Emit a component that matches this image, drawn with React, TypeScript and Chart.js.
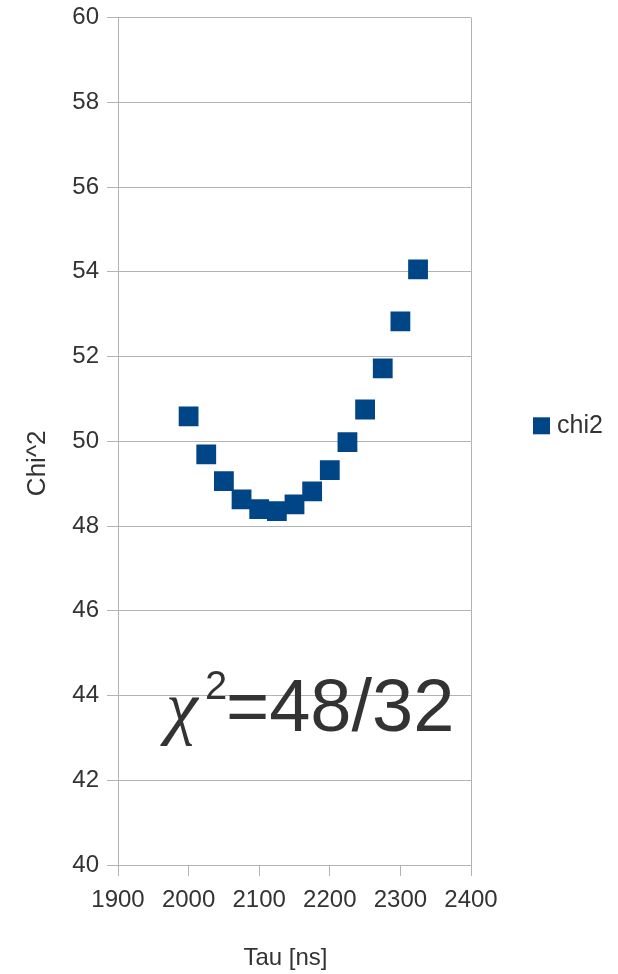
import React, { useEffect, useRef } from 'react';
import { Chart, registerables } from 'chart.js';
Chart.register(...registerables);

const tauValues = [2000, 2025, 2050, 2075, 2100, 2125, 2150, 2175, 2200, 2225, 2250, 2275, 2300, 2325];
const chi2Values = [50.59, 49.69, 49.06, 48.63, 48.4, 48.35, 48.51, 48.82, 49.32, 49.98, 50.75, 51.72, 52.83, 54.06];
const seriesName = 'chi2';
const xTitle = 'Tau [ns]';
const yTitle = 'Chi^2';
const annotChi = 'χ';
const annotSup = '2';
const annotRest = '=48/32';

const COLOR = '#004586';
const TEXT = '#333333';
const GRID = '#b3b3b3';
const FONT = 'Liberation Sans, Arial, sans-serif';

const overlayPlugin = {
  id: 'overlay',
  afterDraw(chart: any) {
    const { ctx, chartArea } = chart;
    const { left, right, top, bottom } = chartArea;
    ctx.save();
    ctx.fillStyle = TEXT;
    // axis titles
    ctx.font = `24px ${FONT}`;
    ctx.textAlign = 'center';
    ctx.textBaseline = 'middle';
    ctx.fillText(xTitle, (left + right) / 2 - 9, bottom + 93);
    ctx.save();
    ctx.translate(38, (top + bottom) / 2 + 22);
    ctx.rotate(-Math.PI / 2);
    ctx.font = `26px ${FONT}`;
    ctx.fillText(yTitle, 0, 0);
    ctx.restore();
    // legend
    ctx.fillStyle = COLOR;
    ctx.fillRect(right + 62, (top + bottom) / 2 - 24, 17, 17);
    ctx.fillStyle = TEXT;
    ctx.textAlign = 'left';
    ctx.font = `25px ${FONT}`;
    ctx.fillText(seriesName, right + 86, (top + bottom) / 2 - 15);
    // annotation
    ctx.textBaseline = 'alphabetic';
    const base = bottom - 134;
    ctx.font = `italic 72px Liberation Serif, serif`;
    ctx.fillText(annotChi, left + 48, base);
    ctx.font = `40px ${FONT}`;
    ctx.fillText(annotSup, left + 87, base - 32);
    ctx.font = `74px ${FONT}`;
    ctx.fillText(annotRest, left + 108, base);
    ctx.restore();
  },
};

export default function App() {
  const ref = useRef<HTMLCanvasElement>(null);
  useEffect(() => {
    document.body.style.margin = '0';
    const canvas = ref.current!;
    const chart = new Chart(canvas, {
      type: 'scatter',
      data: {
        datasets: [
          {
            label: seriesName,
            data: tauValues.map((x, i) => ({ x, y: chi2Values[i] })),
            pointStyle: 'rect',
            pointRadius: 14,
            pointHoverRadius: 14,
            backgroundColor: COLOR,
            borderColor: COLOR,
            borderWidth: 0,
          },
        ],
      },
      options: {
        animation: false,
        responsive: false,
        devicePixelRatio: 1,
        layout: { padding: { left: 0, top: 17, right: 147, bottom: 0 } },
        plugins: { legend: { display: false }, tooltip: { enabled: false } },
        scales: {
          x: {
            type: 'linear',
            min: 1900,
            max: 2400,
            afterFit: (s: any) => { s.height = 109; },
            ticks: {
              stepSize: 100,
              color: TEXT,
              font: { family: FONT, size: 24 },
              padding: 10,
              callback: (v: any) => String(v),
            },
            grid: {
              color: (c: any) => (c.index === 0 || c.index === 5 ? GRID : 'rgba(0,0,0,0)'),
              tickColor: GRID,
              tickLength: 11,
              lineWidth: 1,
            },
            border: { color: GRID },
          },
          y: {
            type: 'linear',
            min: 40,
            max: 60,
            afterFit: (s: any) => { s.width = 118; },
            ticks: {
              stepSize: 2,
              color: TEXT,
              font: { family: FONT, size: 24, lineHeight: 0.8 },
              padding: 8,
              callback: (v: any) => String(v),
            },
            grid: { color: GRID, tickColor: GRID, tickLength: 11 },
            border: { color: GRID },
          },
        },
      },
      plugins: [overlayPlugin],
    });
    return () => chart.destroy();
  }, []);
  return (
    <div style={{ width: 618, height: 974 }}>
      <canvas ref={ref} width={618} height={974} />
    </div>
  );
}
